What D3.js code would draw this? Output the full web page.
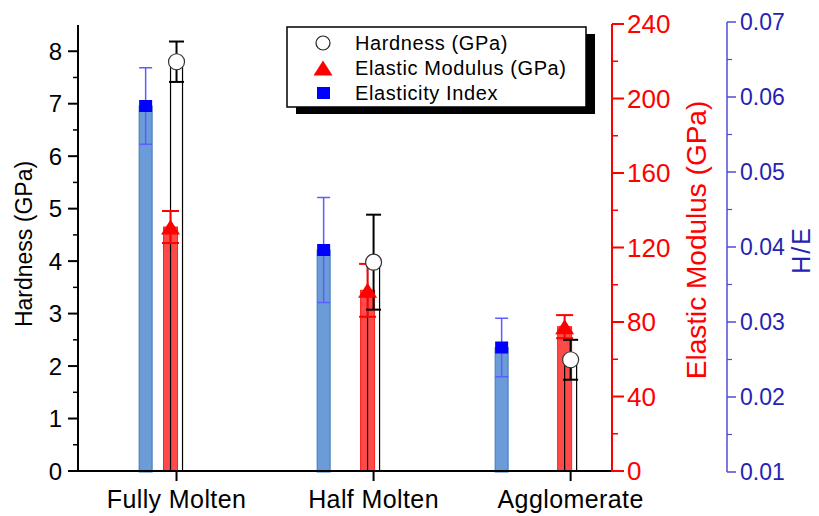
<!DOCTYPE html>
<html>
<head>
<meta charset="utf-8">
<script src="https://cdn.jsdelivr.net/npm/d3@7"></script>
<style>
  html, body { margin: 0; padding: 0; background: #fff; }
  svg { display: block; font-family: "Liberation Sans", Arial, sans-serif; }
</style>
</head>
<body>
<svg id="chart" width="819" height="516"></svg>
<script>
// ---------------- data ----------------
const categories = ["Fully Molten", "Half Molten", "Agglomerate"];
const hardness = [7.8, 3.98, 2.12];
const hardnessErr = [0.385, 0.905, 0.38];
const modulus = [131, 97, 77.5];
const modulusErr = [8.6, 14.2, 6.2];
const elasticityIndex = [0.0588, 0.0396, 0.0266];
const elasticityIndexErr = [0.0051, 0.0070, 0.0039];
const hardnessTicks = [0, 1, 2, 3, 4, 5, 6, 7, 8];
const modulusTicks = [0, 40, 80, 120, 160, 200, 240];
const indexTicks = [0.01, 0.02, 0.03, 0.04, 0.05, 0.06, 0.07];
const legendLabels = ["Hardness (GPa)", "Elastic Modulus (GPa)", "Elasticity Index"];

// ---------------- layout ----------------
const svg = d3.select("#chart");
const X0 = 78, X1 = 612, Y0 = 471;
const idx = categories.map((d, i) => i + 1);

const xH = d3.scaleLinear().domain([0.5, 3.21]).range([X0, X1]);   // hardness / modulus layer
const xB = d3.scaleLinear().domain([0.62, 3.62]).range([X0, X1]);  // elasticity index layer
const yH = d3.scaleLinear().domain([0, 8.5]).range([Y0, 25]);
const yE = d3.scaleLinear().domain([0, 240]).range([Y0, 24]);
const yI = d3.scaleLinear().domain([0.01, 0.07]).range([472, 22]);

const RED = "#ff0000", BLUE_TXT = "#2424b4", BLUE_AX = "#4d4dd6";
const modOff = -6;

// ---------------- bars ----------------
svg.append("g").selectAll("rect").data(elasticityIndex).join("rect")
  .attr("x", (d, i) => xB(idx[i]) - 6.5).attr("width", 13)
  .attr("y", d => yI(d)).attr("height", d => yI(0.01) - yI(d))
  .attr("fill", "#6c9cd7").attr("stroke", "#3f78bd").attr("stroke-width", 1);

svg.append("g").selectAll("rect").data(modulus).join("rect")
  .attr("x", (d, i) => xH(idx[i]) + modOff - 7).attr("width", 14)
  .attr("y", d => yE(d)).attr("height", d => yE(0) - yE(d))
  .attr("fill", "#ff4a4a").attr("stroke", "#ff2020").attr("stroke-width", 1);

svg.append("g").selectAll("rect").data(hardness).join("rect")
  .attr("x", (d, i) => xH(idx[i]) - 6).attr("width", 12)
  .attr("y", d => yH(d)).attr("height", d => yH(0) - yH(d))
  .attr("fill", "none").attr("stroke", "#000").attr("stroke-width", 1.2);

// ---------------- error bars ----------------
function errBars(vals, errs, xf, yf, color, cap, sw) {
  const g = svg.append("g").attr("stroke", color).attr("stroke-width", sw);
  vals.forEach((v, i) => {
    const x = xf(i), yt = yf(v + errs[i]), yb = yf(v - errs[i]);
    g.append("line").attr("x1", x).attr("x2", x).attr("y1", yt).attr("y2", yb);
    g.append("line").attr("x1", x - cap / 2).attr("x2", x + cap / 2).attr("y1", yt).attr("y2", yt);
    g.append("line").attr("x1", x - cap / 2).attr("x2", x + cap / 2).attr("y1", yb).attr("y2", yb);
  });
}
errBars(elasticityIndex, elasticityIndexErr, i => xB(idx[i]), yI, "#5c5cff", 13, 1.5);
errBars(modulus, modulusErr, i => xH(idx[i]) + modOff, yE, RED, 17, 2);
errBars(hardness, hardnessErr, i => xH(idx[i]), yH, "#000", 15, 2);

// ---------------- markers ----------------
const triPath = "M0,-7.5L9.5,7.5L-9.5,7.5Z";
svg.append("g").selectAll("path").data(modulus).join("path")
  .attr("d", triPath)
  .attr("transform", (d, i) => `translate(${xH(idx[i]) + modOff},${yE(d)})`)
  .attr("fill", RED);
svg.append("g").selectAll("rect").data(elasticityIndex).join("rect")
  .attr("x", (d, i) => xB(idx[i]) - 6.5).attr("y", d => yI(d) - 6)
  .attr("width", 13).attr("height", 12).attr("fill", "#0000ff");
svg.append("g").selectAll("circle").data(hardness).join("circle")
  .attr("cx", (d, i) => xH(idx[i])).attr("cy", d => yH(d)).attr("r", 8)
  .attr("fill", "#fff").attr("stroke", "#333").attr("stroke-width", 1.2);

// ---------------- axes ----------------
const gL = svg.append("g").attr("transform", `translate(${X0},0)`);
gL.append("line").attr("x1", 0).attr("x2", 0).attr("y1", yH(8.5)).attr("y2", Y0 + 1)
  .attr("stroke", "#000").attr("stroke-width", 2);
gL.selectAll(".minor").data(d3.range(0.5, 8.5, 1)).join("line")
  .attr("x1", -5).attr("x2", 0).attr("y1", d => yH(d)).attr("y2", d => yH(d))
  .attr("stroke", "#000").attr("stroke-width", 1.5);
gL.selectAll(".major").data(hardnessTicks).join("line")
  .attr("x1", -10).attr("x2", 0).attr("y1", d => yH(d)).attr("y2", d => yH(d))
  .attr("stroke", "#000").attr("stroke-width", 2);
gL.selectAll(".lbl").data(hardnessTicks).join("text")
  .attr("x", -16).attr("y", d => yH(d)).attr("dy", "0.36em")
  .attr("text-anchor", "end").attr("font-size", 24).attr("fill", "#000")
  .text(d => d);

svg.append("line").attr("x1", X0).attr("x2", X1).attr("y1", Y0).attr("y2", Y0)
  .attr("stroke", "#000").attr("stroke-width", 2);
svg.append("g").selectAll("line").data(categories).join("line")
  .attr("x1", (d, i) => xH(idx[i])).attr("x2", (d, i) => xH(idx[i]))
  .attr("y1", Y0).attr("y2", Y0 + 10).attr("stroke", "#000").attr("stroke-width", 2);
svg.append("g").selectAll("text").data(categories).join("text")
  .attr("x", (d, i) => xH(idx[i])).attr("y", 508)
  .attr("text-anchor", "middle").attr("font-size", 25).attr("letter-spacing", "0.4px")
  .attr("fill", "#000").text(d => d);

const gR = svg.append("g").attr("transform", `translate(${X1},0)`);
gR.append("line").attr("x1", 0).attr("x2", 0).attr("y1", yE(240)).attr("y2", Y0 + 1)
  .attr("stroke", RED).attr("stroke-width", 2);
gR.selectAll(".minor").data(d3.range(20, 240, 40)).join("line")
  .attr("x1", 0).attr("x2", 6).attr("y1", d => yE(d)).attr("y2", d => yE(d))
  .attr("stroke", RED).attr("stroke-width", 1.5);
gR.selectAll(".major").data(modulusTicks).join("line")
  .attr("x1", 0).attr("x2", 12).attr("y1", d => yE(d)).attr("y2", d => yE(d))
  .attr("stroke", RED).attr("stroke-width", 2);
gR.selectAll(".lbl").data(modulusTicks).join("text")
  .attr("x", 15).attr("y", d => yE(d)).attr("dy", "0.36em")
  .attr("text-anchor", "start").attr("font-size", 26).attr("fill", RED)
  .text(d => d);

const XB = 727;
const gB = svg.append("g").attr("transform", `translate(${XB},0)`);
gB.append("line").attr("x1", 0).attr("x2", 0).attr("y1", yI(0.07)).attr("y2", yI(0.01))
  .attr("stroke", BLUE_AX).attr("stroke-width", 1.5);
gB.selectAll(".minor").data(d3.range(0.015, 0.07, 0.01)).join("line")
  .attr("x1", 0).attr("x2", 5).attr("y1", d => yI(d)).attr("y2", d => yI(d))
  .attr("stroke", BLUE_AX).attr("stroke-width", 1.2);
gB.selectAll(".major").data(indexTicks).join("line")
  .attr("x1", 0).attr("x2", 9).attr("y1", d => yI(d)).attr("y2", d => yI(d))
  .attr("stroke", BLUE_AX).attr("stroke-width", 1.5);
gB.selectAll(".lbl").data(indexTicks).join("text")
  .attr("x", 13).attr("y", d => yI(d)).attr("dy", "0.36em")
  .attr("text-anchor", "start").attr("font-size", 23).attr("fill", BLUE_TXT)
  .text(d => d3.format(".2f")(d));

svg.append("text").attr("transform", "translate(32,244) rotate(-90)")
  .attr("text-anchor", "middle").attr("font-size", 23).attr("fill", "#000")
  .text("Hardness (GPa)");
svg.append("text").attr("transform", "translate(706,240) rotate(-90)")
  .attr("text-anchor", "middle").attr("font-size", 28).attr("fill", RED)
  .text("Elastic Modulus (GPa)");
svg.append("text").attr("transform", "translate(810,250) rotate(-90)")
  .attr("text-anchor", "middle").attr("font-size", 25).attr("letter-spacing", "2px")
  .attr("fill", BLUE_TXT).text("H/E");

// ---------------- legend ----------------
const lg = svg.append("g");
lg.append("rect").attr("x", 296).attr("y", 34).attr("width", 299).attr("height", 80).attr("fill", "#000");
lg.append("rect").attr("x", 287).attr("y", 27).attr("width", 299).attr("height", 80)
  .attr("fill", "#fff").attr("stroke", "#000").attr("stroke-width", 1.5);
const rowY = [43, 68, 93];
lg.append("circle").attr("cx", 323).attr("cy", rowY[0]).attr("r", 7)
  .attr("fill", "#fff").attr("stroke", "#222").attr("stroke-width", 1.2);
lg.append("path").attr("d", triPath).attr("transform", `translate(323,${rowY[1]})`).attr("fill", RED);
lg.append("rect").attr("x", 317).attr("y", rowY[2] - 6).attr("width", 13).attr("height", 12).attr("fill", "#0000ff");
lg.selectAll("text").data(legendLabels).join("text")
  .attr("x", 355).attr("y", (d, i) => rowY[i] + 7)
  .attr("font-size", 20).attr("letter-spacing", "0.6px").attr("fill", "#000")
  .text(d => d);
</script>
</body>
</html>
